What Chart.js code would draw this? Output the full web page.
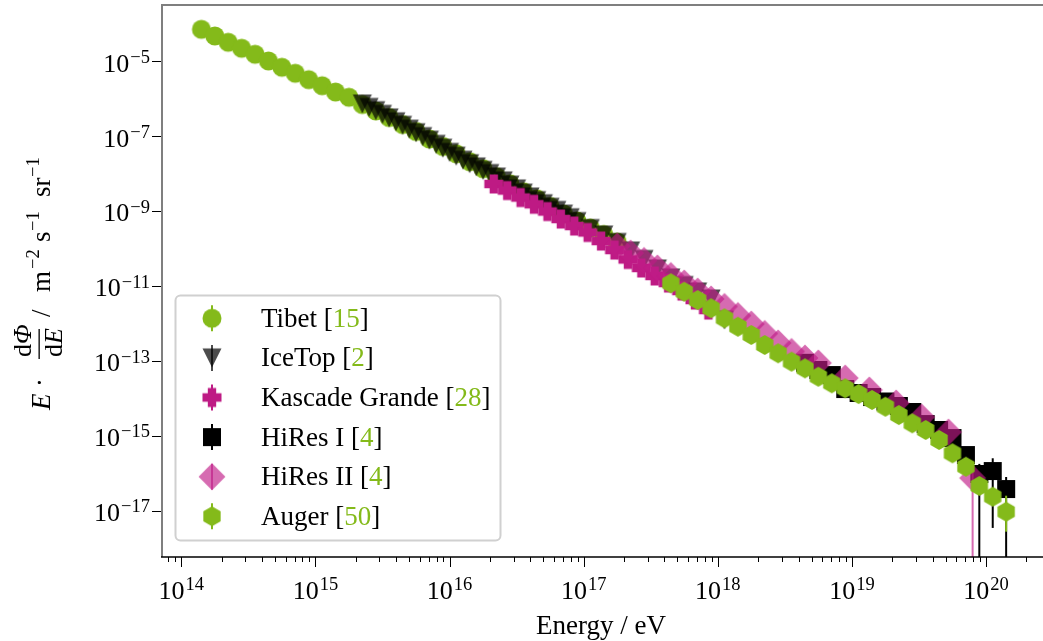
<!DOCTYPE html>
<html><head><meta charset="utf-8">
<script src="https://cdn.jsdelivr.net/npm/chart.js@4.4.1/dist/chart.umd.min.js"></script>
<style>html,body{margin:0;padding:0;background:#fff;}canvas{display:block}</style>
</head><body>
<canvas id="c" width="1043" height="641"></canvas>
<script>
// ---- data (log10 of energy in eV, log10 of E*dPhi/dE in m^-2 s^-1 sr^-1) ----
const tibetLogE = [14.15,14.25,14.35,14.45,14.55,14.65,14.75,14.85,14.95,15.05,15.15,15.25,15.35,15.45,15.55,15.65,15.75,15.85,15.95,16.05,16.15,16.25,16.35,16.45,16.55,16.65,16.75,16.85,16.95,17.05,17.15,17.25];
const tibetLogFlux = [-4.146,-4.324,-4.493,-4.653,-4.813,-4.992,-5.160,-5.320,-5.491,-5.652,-5.820,-5.961,-6.154,-6.327,-6.501,-6.688,-6.874,-7.075,-7.275,-7.470,-7.681,-7.869,-8.082,-8.270,-8.483,-8.671,-8.877,-9.077,-9.264,-9.451,-9.625,-9.825];

const icetopLogE = [15.35,15.40,15.45,15.50,15.55,15.60,15.65,15.70,15.75,15.80,15.85,15.90,15.95,16.00,16.05,16.10,16.15,16.20,16.25,16.30,16.35,16.40,16.45,16.50,16.55,16.60,16.65,16.70,16.75,16.80,16.85,16.90,16.95,17.05,17.15,17.25,17.35,17.45,17.55,17.65,17.75,17.85,17.95,18.05];
const icetopLogFlux = [-6.140,-6.232,-6.318,-6.417,-6.512,-6.615,-6.710,-6.812,-6.907,-7.010,-7.106,-7.218,-7.321,-7.432,-7.535,-7.641,-7.735,-7.820,-7.913,-7.997,-8.091,-8.194,-8.305,-8.408,-8.519,-8.622,-8.719,-8.803,-8.898,-8.982,-9.080,-9.177,-9.280,-9.465,-9.638,-9.838,-10.065,-10.292,-10.546,-10.786,-10.987,-11.160,-11.347,-11.908];

const kgLogE = [16.33,16.43,16.53,16.63,16.73,16.83,16.93,17.03,17.13,17.23,17.33,17.43,17.53,17.63,17.73,17.83,17.93];
const kgLogFlux = [-8.276,-8.450,-8.637,-8.818,-9.011,-9.211,-9.398,-9.571,-9.799,-10.039,-10.292,-10.519,-10.733,-10.920,-11.134,-11.374,-11.641];

const hires1LogE = [18.65,18.75,18.85,18.95,19.05,19.15,19.25,19.35,19.45,19.55,19.65,19.75,19.85,19.95,20.05,20.15];
const hires1LogFlux = [-13.050,-13.243,-13.377,-13.751,-13.857,-13.964,-14.084,-14.204,-14.364,-14.685,-14.845,-15.059,-15.513,-16.020,-15.940,-16.421];

const hires2LogE = [17.25,17.35,17.45,17.55,17.65,17.75,17.85,17.95,18.05,18.15,18.25,18.35,18.45,18.55,18.65,18.75,18.95,19.13,19.33,19.52,19.72,19.90];
const hires2LogFlux = [-9.932,-10.119,-10.319,-10.519,-10.720,-10.920,-11.134,-11.347,-11.547,-11.788,-12.015,-12.268,-12.522,-12.749,-12.923,-13.056,-13.457,-13.777,-14.125,-14.499,-14.899,-16.127];

const augerLogE = [17.65,17.75,17.85,17.95,18.05,18.15,18.25,18.35,18.45,18.55,18.65,18.75,18.85,18.95,19.05,19.15,19.25,19.35,19.45,19.55,19.65,19.75,19.85,19.95,20.05,20.15];
const augerLogFlux = [-10.928,-11.152,-11.374,-11.595,-11.862,-12.087,-12.308,-12.575,-12.797,-13.021,-13.198,-13.422,-13.598,-13.732,-13.884,-14.044,-14.223,-14.445,-14.666,-14.845,-15.112,-15.467,-15.825,-16.340,-16.626,-17.027];

// visible error bars (log10 bounds; -30 = extends below the axis)
const hires1ErrLogE = [19.95, 20.05, 20.15];
const hires1ErrLo = [-30, -17.46, -30];
const hires1ErrHi = [-15.75, -15.6, -16.1];
const hires2ErrLogE = [19.90];
const hires2ErrLo = [-30];
const hires2ErrHi = [-15.95];
const augerErrLogE = [20.05, 20.15];
const augerErrLo = [-16.85, -17.56];
const augerErrHi = [-16.40, -16.60];

const seriesNames = ['Tibet', 'IceTop', 'Kascade Grande', 'HiRes I', 'HiRes II', 'Auger'];
const seriesRefs = ['15', '2', '28', '4', '4', '50'];
const xTickExps = [14, 15, 16, 17, 18, 19, 20];
const yTickExps = [-5, -7, -9, -11, -13, -15, -17];

// ---- styles ----
const GREEN = 'rgb(132,186,26)';
const ICE = 'rgba(0,0,0,0.7)';
const MAG = 'rgb(190,26,132)';
const PINK = 'rgba(192,28,135,0.65)';
const SERIF = "'Liberation Serif','DejaVu Serif',serif";

function markerCanvas(shape, color, ms) {
  const s = 32;
  const c = document.createElement('canvas'); c.width = s; c.height = s;
  const g = c.getContext('2d');
  g.translate(s / 2, s / 2); g.fillStyle = color; g.beginPath();
  const h = ms / 2;
  if (shape === 'circle') g.arc(0, 0, h, 0, Math.PI * 2);
  else if (shape === 'tri') { g.moveTo(-h, -h); g.lineTo(h, -h); g.lineTo(0, h); g.closePath(); }
  else if (shape === 'plus') {
    const t = ms * 0.22;
    const p = [[-t,-h],[t,-h],[t,-t],[h,-t],[h,t],[t,t],[t,h],[-t,h],[-t,t],[-h,t],[-h,-t],[-t,-t]];
    p.forEach((q, i) => { i ? g.lineTo(q[0], q[1]) : g.moveTo(q[0], q[1]); });
    g.closePath();
  }
  else if (shape === 'square') g.rect(-h, -h, ms, ms);
  else if (shape === 'diamond') { const d = h * Math.SQRT2; g.moveTo(0, -d); g.lineTo(d, 0); g.lineTo(0, d); g.lineTo(-d, 0); g.closePath(); }
  else if (shape === 'hex') {
    for (let k = 0; k < 6; k++) { const a = -Math.PI / 2 + k * Math.PI / 3; const X = h * Math.cos(a), Y = h * Math.sin(a); k ? g.lineTo(X, Y) : g.moveTo(X, Y); }
    g.closePath();
  }
  g.fill();
  return c;
}

const markers = [
  markerCanvas('circle', GREEN, 19),
  markerCanvas('tri', ICE, 19),
  markerCanvas('plus', MAG, 19),
  markerCanvas('square', 'rgb(0,0,0)', 18),
  markerCanvas('diamond', PINK, 19),
  markerCanvas('hex', GREEN, 20)
];
const errColors = [GREEN, ICE, MAG, '#000', PINK, GREEN];
const allLogE = [tibetLogE, icetopLogE, kgLogE, hires1LogE, hires2LogE, augerLogE];
const allLogF = [tibetLogFlux, icetopLogFlux, kgLogFlux, hires1LogFlux, hires2LogFlux, augerLogFlux];
const allErr = [null, null, null,
  {e: hires1ErrLogE, lo: hires1ErrLo, hi: hires1ErrHi},
  {e: hires2ErrLogE, lo: hires2ErrLo, hi: hires2ErrHi},
  {e: augerErrLogE, lo: augerErrLo, hi: augerErrHi}];

const datasets = seriesNames.map((name, i) => ({
  label: name,
  data: allLogE[i].map((le, k) => ({x: Math.pow(10, le), y: Math.pow(10, allLogF[i][k])})),
  pointStyle: markers[i],
  pointRadius: 10,
  pointHoverRadius: 10,
  showLine: false,
  order: 6 - i
}));

const errorBarPlugin = {
  id: 'errbars',
  beforeDatasetDraw(chart, args) {
    const i = args.index; const err = allErr[i]; if (!err) return;
    const {ctx, chartArea: a, scales: {x, y}} = chart;
    ctx.save();
    ctx.beginPath(); ctx.rect(a.left, a.top, a.right - a.left, a.bottom - a.top); ctx.clip();
    ctx.strokeStyle = errColors[i]; ctx.lineWidth = 2;
    err.e.forEach((le, k) => {
      const px = x.getPixelForValue(Math.pow(10, le));
      let y1 = y.getPixelForValue(Math.pow(10, err.lo[k]));
      if (!isFinite(y1) || y1 > a.bottom + 5) y1 = a.bottom + 5;
      const y2 = y.getPixelForValue(Math.pow(10, err.hi[k]));
      ctx.beginPath(); ctx.moveTo(px, y1); ctx.lineTo(px, y2); ctx.stroke();
    });
    ctx.restore();
  }
};

function drawPow(ctx, base, exp, xLeft, baseY, supRaise, mainSize, supSize) {
  ctx.font = mainSize + 'px ' + SERIF; ctx.fillText(base, xLeft, baseY);
  const w = ctx.measureText(base).width;
  ctx.font = supSize + 'px ' + SERIF; ctx.fillText(exp, xLeft + w + 1, baseY - supRaise);
}
function powWidth(ctx, base, exp, mainSize, supSize) {
  ctx.font = mainSize + 'px ' + SERIF; const w1 = ctx.measureText(base).width;
  ctx.font = supSize + 'px ' + SERIF; const w2 = ctx.measureText(exp).width;
  return w1 + 1 + w2;
}

const axesPlugin = {
  id: 'axesDraw',
  afterDatasetsDraw(chart) {
    const {ctx, chartArea: a, scales: {x, y}} = chart;
    ctx.save();
    // x ticks
    ctx.strokeStyle = '#000'; ctx.lineWidth = 1;
    for (let e = 13; e <= 20; e++) {
      for (let m = 1; m <= 9; m++) {
        const px = x.getPixelForValue(m * Math.pow(10, e));
        if (px < a.left - 0.5 || px > a.right) continue;
        const len = m === 1 ? 10 : 5;
        const xx = Math.round(px) + 0.5;
        ctx.beginPath(); ctx.moveTo(xx, a.bottom); ctx.lineTo(xx, a.bottom + len); ctx.stroke();
      }
    }
    // y ticks
    yTickExps.forEach(e => {
      const py = Math.round(y.getPixelForValue(Math.pow(10, e))) + 0.5;
      ctx.beginPath(); ctx.moveTo(a.left - 10, py); ctx.lineTo(a.left, py); ctx.stroke();
    });
    // spines
    ctx.strokeStyle = '#7f7f7f'; ctx.lineWidth = 2;
    ctx.beginPath(); ctx.moveTo(a.left, a.bottom); ctx.lineTo(a.left, a.top); ctx.lineTo(a.right + 2, a.top); ctx.stroke();
    ctx.strokeStyle = '#000'; ctx.lineWidth = 1.6;
    ctx.beginPath(); ctx.moveTo(a.left - 1, a.bottom); ctx.lineTo(a.right + 2, a.bottom); ctx.stroke();
    // tick labels
    ctx.fillStyle = '#000'; ctx.textBaseline = 'alphabetic'; ctx.textAlign = 'left';
    xTickExps.forEach(e => {
      const px = x.getPixelForValue(Math.pow(10, e));
      const s = String(e);
      const w = powWidth(ctx, '10', s, 26, 18.5);
      drawPow(ctx, '10', s, px - w / 2, a.bottom + 42, 9, 26, 18.5);
    });
    yTickExps.forEach(e => {
      const py = y.getPixelForValue(Math.pow(10, e));
      const s = '\u2212' + String(-e);
      const w = powWidth(ctx, '10', s, 26, 18.5);
      drawPow(ctx, '10', s, a.left - 12 - w, py + 10.4, 8.7, 26, 18.5);
    });
    // x axis title
    ctx.font = '27px ' + SERIF; ctx.textAlign = 'center';
    ctx.fillText('Energy / eV', 601, 634);
    // y axis title (rotated)
    ctx.save();
    ctx.translate(50, 410); ctx.rotate(-Math.PI / 2);
    ctx.textAlign = 'left';
    ctx.font = 'italic 27px ' + SERIF; ctx.fillText('E', 0, 0);
    ctx.font = '27px ' + SERIF; ctx.fillText('\u00b7', 23, -1);
    // fraction
    ctx.font = '26px ' + SERIF; ctx.fillText('d', 53, -19);
    let wd = ctx.measureText('d').width;
    ctx.font = 'italic 26px ' + SERIF; ctx.fillText('\u03A6', 53 + wd, -19);
    ctx.font = '26px ' + SERIF; ctx.fillText('d', 53, 12);
    ctx.font = 'italic 26px ' + SERIF; ctx.fillText('E', 53 + wd, 12);
    ctx.fillRect(51, -11.5, 30, 1.3);
    ctx.font = '27px ' + SERIF; ctx.fillText('/', 93, 0);
    ctx.fillText('m', 118, 0);
    ctx.font = '18.5px ' + SERIF; ctx.fillText('\u22122', 141, -11);
    ctx.font = '27px ' + SERIF; ctx.fillText('s', 168, 0);
    ctx.font = '18.5px ' + SERIF; ctx.fillText('\u22121', 179, -11);
    ctx.font = '27px ' + SERIF; ctx.fillText('sr', 213, 0);
    ctx.font = '18.5px ' + SERIF; ctx.fillText('\u22121', 233, -11);
    ctx.restore();
    ctx.restore();
  },
  afterDraw(chart) {
    const ctx = chart.ctx;
    ctx.save();
    // legend frame
    ctx.fillStyle = 'rgba(255,255,255,0.8)';
    ctx.strokeStyle = '#d0d0d0'; ctx.lineWidth = 2;
    ctx.beginPath(); ctx.roundRect(175.5, 295.5, 325, 245, 5); ctx.fill(); ctx.stroke();
    seriesNames.forEach((name, i) => {
      const cy = 318.3 + i * 39.6;
      const mx = 212;
      ctx.strokeStyle = errColors[i]; ctx.lineWidth = 2;
      ctx.beginPath(); ctx.moveTo(mx, cy - 13); ctx.lineTo(mx, cy + 13); ctx.stroke();
      const m = markers[i];
      ctx.drawImage(m, mx - m.width / 2, cy - m.height / 2);
      ctx.font = '27px ' + SERIF; ctx.textAlign = 'left';
      let tx = 261; const by = cy + 8.4;
      ctx.fillStyle = '#000'; ctx.fillText(name + ' [', tx, by);
      tx += ctx.measureText(name + ' [').width;
      ctx.fillStyle = GREEN; ctx.fillText(seriesRefs[i], tx, by);
      tx += ctx.measureText(seriesRefs[i]).width;
      ctx.fillStyle = '#000'; ctx.fillText(']', tx, by);
    });
    ctx.restore();
  }
};

new Chart(document.getElementById('c'), {
  type: 'scatter',
  data: { datasets },
  options: {
    responsive: false,
    devicePixelRatio: 1,
    animation: false,
    events: [],
    layout: { autoPadding: false, padding: { left: 162, top: 5, right: 0, bottom: 84 } },
    plugins: { legend: { display: false }, tooltip: { enabled: false } },
    scales: {
      x: { type: 'logarithmic', display: false, bounds: 'data', min: Math.pow(10, 13.8561), max: Math.pow(10, 13.8561 + 881 / 134.12) },
      y: { type: 'logarithmic', display: false, bounds: 'data', min: Math.pow(10, -3.4967 - 552 / 37.45), max: Math.pow(10, -3.4967) }
    }
  },
  plugins: [errorBarPlugin, axesPlugin]
});
</script>
</body></html>
